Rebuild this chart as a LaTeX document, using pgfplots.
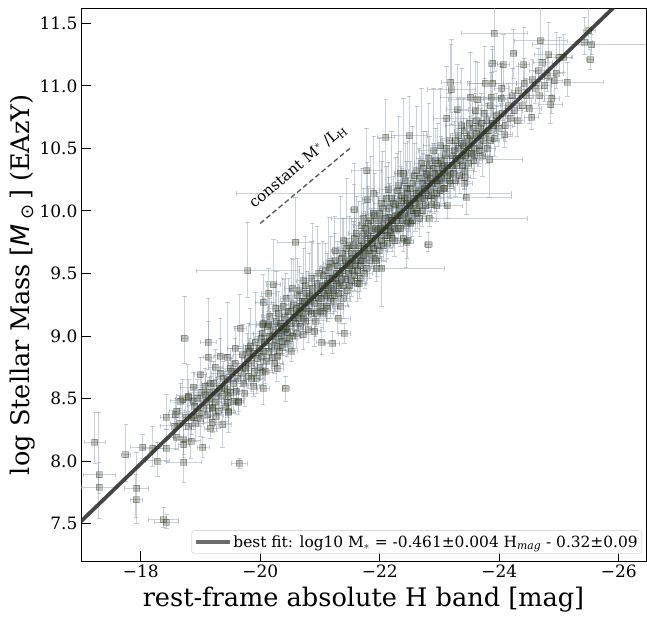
\documentclass[border=0pt]{standalone}
\usepackage{pgfplots}
\usepackage{pgfplotstable}
\usepackage{fontspec}
\setmainfont{DejaVu Serif}
\newfontfamily\dvs{DejaVu Sans}
\pgfplotsset{compat=1.18}
\definecolor{ebar}{RGB}{135,152,172}
\definecolor{mfill}{RGB}{60,70,25}
\pgfplotstableread{
x y ex eu ed
-17.23 8.15 .17 .24 .17
-17.30 7.89 .27 .50 .15
-17.30 7.79 .30 .20 .25
-17.75 8.05 .08 .24 .21
-18.03 8.11 .20 .10 .09
-17.93 7.78 .20 .29 .28
-17.92 7.69 .10 .20 .14
-18.38 7.53 .25 .10 .06
-18.43 7.51 .20 .06 .05
-19.65 7.98 .13 .04 .04
-19.04 8.11 .10 .08 .08
-18.72 7.99 .30 .17 .16
-18.28 8.00 .20 .15 .12
-18.43 8.10 .20 .15 .10
-18.20 8.10 .18 .18 .14
-18.43 8.35 .10 .18 .10
-18.57 8.28 .25 .12 .10
-18.59 8.19 .12 .10 .10
-18.72 8.17 .12 .15 .12
-18.84 8.16 .15 .12 .14
-18.72 8.13 .10 .16 .10
-18.85 8.35 .14 .12 .14
-18.79 8.52 .20 .25 .12
-18.67 8.48 .18 .14 .10
-19.20 8.43 .16 .15 .10
-19.17 8.26 .10 .10 .08
-19.20 8.31 .15 .12 .08
-19.37 8.29 .14 .14 .18
-19.64 8.48 .08 .08 .08
-19.89 8.60 .10 .08 .08
-19.47 8.40 .10 .12 .10
-18.90 8.44 .12 .14 .10
-18.95 8.50 .15 .15 .10
-18.98 8.38 .10 .12 .10
-19.02 8.55 .22 .16 .10
-19.05 8.42 .12 .10 .12
-19.08 8.60 .15 .14 .10
-19.10 8.47 .10 .16 .10
-19.12 8.37 .15 .10 .12
-19.15 8.55 .12 .12 .10
-19.18 8.50 .20 .18 .10
-19.22 8.62 .14 .18 .12
-19.25 8.47 .10 .10 .08
-19.28 8.55 .12 .12 .10
-19.30 8.40 .15 .12 .14
-19.33 8.70 .15 .28 .12
-19.35 8.52 .10 .10 .10
-19.40 8.58 .14 .14 .10
-19.42 8.44 .10 .12 .12
-19.45 8.65 .18 .20 .12
-19.50 8.55 .12 .16 .10
-19.52 8.72 .10 .10 .08
-19.55 8.62 .15 .18 .12
-19.58 8.78 .12 .20 .14
-19.60 8.56 .10 .10 .10
-19.66 9.06 .10 .27 .14
-19.68 8.70 .12 .15 .10
-19.70 8.85 .15 .24 .12
-19.72 8.62 .12 .10 .12
-19.75 8.75 .10 .12 .10
-19.78 8.82 .10 .20 .12
-19.80 8.68 .14 .12 .10
-19.79 9.52 .86 .39 .21
-19.83 8.92 .12 .30 .14
-19.85 8.78 .10 .12 .10
-19.88 8.86 .16 .16 .12
-19.90 8.72 .10 .10 .08
-19.92 8.95 .12 .40 .12
-19.95 8.82 .12 .18 .12
-19.98 8.90 .15 .14 .10
-20.00 8.75 .10 .10 .10
-20.03 9.02 .14 .30 .12
-20.05 8.88 .12 .14 .10
-20.07 8.95 .20 .20 .10
-20.10 8.80 .10 .10 .08
-20.12 9.08 .18 .36 .14
-20.15 9.00 .12 .16 .12
-20.18 8.92 .10 .12 .10
-20.20 8.83 .12 .10 .12
-20.22 9.05 .15 .22 .10
-20.25 8.97 .10 .12 .12
-20.27 9.12 .16 .40 .16
-20.30 9.02 .14 .14 .10
-20.32 8.88 .12 .10 .10
-20.35 9.08 .10 .20 .12
-20.37 8.96 .12 .12 .10
-20.40 9.15 .14 .30 .14
-20.42 9.05 .22 .14 .10
-20.45 8.94 .10 .10 .10
-20.47 9.20 .12 .26 .16
-20.50 9.10 .16 .16 .12
-20.52 8.88 .10 .08 .08
-20.55 9.25 .14 .36 .12
-20.57 9.15 .10 .12 .10
-20.59 9.75 .30 .36 .36
-20.60 9.02 .12 .12 .12
-20.62 9.32 .16 .30 .18
-20.65 9.20 .10 .16 .12
-20.67 9.08 .12 .12 .10
-20.70 9.28 .18 .22 .12
-20.72 9.14 .12 .14 .10
-20.75 9.40 .12 .40 .20
-20.77 9.22 .14 .18 .12
-20.80 9.05 .10 .10 .10
-20.82 9.32 .12 .34 .14
-20.85 9.18 .15 .14 .12
-20.87 9.38 .10 .52 .20
-20.90 9.26 .12 .16 .10
-20.92 9.12 .18 .10 .12
-20.95 9.42 .14 .46 .18
-20.97 9.30 .10 .14 .12
-21.00 9.20 .12 .12 .10
-21.03 8.95 .10 .12 .10
-21.05 9.48 .16 .28 .14
-21.07 9.34 .12 .14 .12
-21.10 9.24 .10 .12 .10
-21.12 9.42 .22 .24 .12
-21.15 9.55 .14 .40 .14
-21.17 9.30 .12 .18 .16
-21.20 9.46 .10 .16 .10
-21.21 8.94 .12 .10 .08
-21.23 9.36 .16 .14 .12
-21.25 9.60 .14 .36 .16
-21.27 9.50 .10 .20 .12
-21.30 9.14 .20 .10 .12
-21.32 9.40 .12 .14 .12
-21.35 9.62 .16 .50 .20
-21.37 9.52 .14 .18 .10
-21.40 9.30 .10 .14 .16
-21.41 9.02 .10 .08 .08
-21.43 9.45 .12 .16 .12
-21.45 9.70 .12 .56 .22
-21.47 9.58 .16 .20 .12
-21.50 9.40 .14 .12 .12
-21.52 9.66 .12 .28 .14
-21.55 9.52 .12 .16 .10
-21.57 9.78 .16 .60 .24
-21.60 9.60 .10 .20 .14
-21.62 9.42 .14 .14 .14
-21.65 9.72 .12 .36 .14
-21.67 9.56 .18 .18 .10
-21.70 9.88 .14 .46 .22
-21.72 9.64 .12 .14 .14
-21.75 9.50 .12 .12 .12
-21.78 10.32 .25 .34 .38
-21.80 9.80 .14 .40 .16
-21.82 9.68 .12 .20 .12
-21.85 9.92 .12 .52 .20
-21.87 9.74 .16 .20 .12
-21.90 10.14 2.30 .46 .26
-21.92 9.62 .10 .12 .10
-21.97 9.85 .14 .30 .14
-22.00 9.98 .12 .60 .20
-22.02 9.76 .14 .16 .14
-22.03 9.54 1.05 .10 .30
-22.05 10.02 .16 .46 .18
-22.07 9.88 .10 .20 .12
-22.10 10.59 .14 .30 .40
-22.12 9.74 .12 .14 .12
-22.15 9.95 .16 .32 .16
-22.17 9.84 .14 .18 .14
-22.20 10.10 .12 .54 .22
-22.22 9.92 .12 .20 .12
-22.25 9.76 .18 .12 .12
-22.27 10.05 .14 .38 .16
-22.30 9.96 .12 .16 .12
-22.32 10.20 .16 .56 .24
-22.35 9.86 .14 .16 .14
-22.37 10.08 .10 .26 .14
-22.40 10.30 .14 .60 .28
-22.42 9.98 .16 .20 .12
-22.44 9.75 .12 .20 .20
-22.47 10.14 .12 .42 .18
-22.49 10.60 .30 .32 .34
-22.50 10.04 .12 .16 .14
-22.52 9.90 .14 .14 .16
-22.55 10.22 .18 .46 .20
-22.57 10.10 .10 .20 .12
-22.60 9.98 .12 .12 .14
-22.62 10.32 .14 .52 .24
-22.65 10.16 .16 .26 .14
-22.67 10.04 .12 .14 .12
-22.70 10.38 .12 .60 .26
-22.72 10.22 .14 .24 .16
-22.75 10.10 .18 .14 .14
-22.81 9.73 .07 .10 .05
-22.78 10.30 .12 .34 .14
-22.82 10.42 .14 .44 .22
-22.83 9.94 1.64 .06 .06
-22.85 10.18 .12 .18 .12
-22.87 10.05 .10 .12 .10
-22.90 10.48 .26 .50 .24
-22.92 10.30 .14 .24 .14
-22.95 10.14 .12 .12 .14
-22.97 10.38 .16 .32 .16
-23.00 10.24 .12 .18 .12
-23.02 10.52 .30 .46 .22
-23.05 10.34 .14 .24 .14
-23.07 10.18 .16 .14 .12
-23.10 10.44 .12 .30 .14
-23.12 10.74 .22 .42 .30
-23.14 10.28 .12 .16 .12
-23.17 10.56 .16 .38 .20
-23.19 11.03 .16 .30 .24
-23.20 10.97 .40 .40 .28
-23.22 10.36 .12 .18 .14
-23.25 10.48 .14 .24 .16
-23.27 10.24 .18 .12 .12
-23.30 10.81 .18 .36 .26
-23.32 10.60 .14 .30 .16
-23.35 10.40 .12 .14 .12
-23.37 10.68 .28 .46 .24
-23.40 10.52 .12 .22 .14
-23.42 10.32 .14 .14 .14
-23.45 10.11 .75 .10 .14
-23.47 10.46 .10 .16 .12
-23.52 10.91 .50 .36 .24
-23.50 10.70 .14 .34 .18
-23.55 10.56 .12 .18 .12
-23.57 10.40 .14 .12 .14
-23.60 10.80 .30 .40 .24
-23.62 10.62 .14 .20 .14
-23.64 10.89 .50 .30 .20
-23.67 10.52 .12 .14 .14
-23.70 10.70 .16 .24 .14
-23.72 10.44 .12 .14 .16
-23.76 11.02 .30 .30 .24
-23.75 10.78 .18 .28 .16
-23.78 10.62 .12 .16 .14
-23.80 10.50 .14 .12 .12
-23.84 10.41 .55 .10 .30
-23.85 10.84 .20 .32 .18
-23.87 10.91 .40 .20 .16
-23.88 10.70 .12 .18 .14
-23.89 11.02 .40 .30 .20
-23.89 11.18 .08 .11 .14
-23.92 11.42 .55 .30 .30
-23.92 10.58 .14 .14 .14
-23.95 10.76 .16 .18 .14
-23.98 10.66 .12 .14 .14
-24.03 10.90 .30 .26 .14
-24.04 10.98 .12 .20 .12
-24.07 11.17 .10 .24 .17
-24.09 10.61 .12 .10 .10
-24.05 10.78 .16 .18 .14
-24.10 10.68 .12 .14 .12
-24.15 10.84 .14 .18 .12
-24.18 10.74 .12 .16 .14
-24.24 11.26 .05 .19 .20
-24.22 10.92 .16 .22 .14
-24.25 10.80 .14 .14 .12
-24.30 10.72 .12 .14 .12
-24.32 10.96 .12 .20 .14
-24.38 10.84 .14 .16 .14
-24.41 11.17 .10 .30 .20
-24.42 11.02 .14 .20 .14
-24.45 10.92 .12 .14 .12
-24.50 10.82 .20 .14 .12
-24.54 10.75 .12 .15 .10
-24.55 11.05 .14 .16 .14
-24.60 10.98 .10 .14 .12
-24.65 11.12 .14 .18 .14
-24.69 11.36 .44 .30 .15
-24.68 10.92 .20 .12 .14
-24.73 11.19 .16 .18 .14
-24.75 11.00 .12 .16 .12
-24.80 11.08 .14 .14 .12
-24.83 11.25 .25 .26 .20
-24.86 10.85 .20 .20 .15
-24.88 10.90 .12 .16 .12
-24.92 11.04 .14 .14 .14
-24.95 11.10 .12 .33 .12
-25.01 11.23 .20 .16 .12
-25.08 11.23 .15 .18 .12
-25.14 11.03 .60 .16 .11
-25.43 11.35 .12 .20 .10
-25.50 11.44 .10 .30 .10
-25.55 11.33 1.00 .08 .08
-25.52 11.21 .06 .08 .08
-18.73 8.98 .06 .34 .20
-19.13 8.95 .13 .35 .14
-19.13 8.83 .08 .29 .10
-19.33 8.84 .10 .30 .12
-19.45 8.83 .08 .44 .14
-19.58 8.90 .14 .18 .12
-19.80 8.90 .18 .20 .14
-20.05 9.27 .14 .22 .14
-20.22 9.41 .12 .36 .16
-20.14 9.34 .12 .20 .14
-20.04 9.09 .22 .18 .12
-20.14 9.09 .14 .16 .12
-20.30 9.18 .14 .18 .14
-20.37 8.91 .18 .12 .14
-20.45 9.03 .12 .14 .10
-20.72 9.01 .20 .14 .12
-20.42 8.58 .06 .10 .10
-20.28 8.74 .10 .08 .10
-20.05 8.58 .10 .15 .13
-19.86 8.66 .14 .12 .10
-20.03 8.71 .12 .10 .10
-19.75 8.74 .16 .14 .12
-19.50 8.74 .18 .16 .10
-19.25 8.75 .12 .14 .10
-19.00 8.69 .10 .14 .12
-18.88 8.59 .22 .12 .12
-19.16 8.62 .14 .18 .14
-19.08 8.53 .20 .16 .14
-18.80 8.51 .16 .14 .12
-18.70 8.49 .12 .16 .10
-19.45 8.57 .16 .12 .14
-19.63 8.47 .08 .10 .10
-19.45 8.47 .14 .14 .12
-19.20 8.42 .10 .12 .10
-19.47 8.39 .12 .10 .16
-18.58 8.37 .12 .10 .12
-18.88 8.35 .14 .10 .10
-22.81 10.12 .10 .10 .10
-23.42 10.22 .12 .12 .12
-23.42 10.27 .10 .14 .10
-23.13 10.04 .25 .10 .10
-22.95 10.04 .18 .14 .12
-22.67 9.94 .10 .12 .14
-22.48 9.91 .12 .12 .12
-22.46 9.76 .10 .10 .14
-22.39 9.78 .14 .10 .10
-21.94 9.54 .10 .10 .10
-21.67 9.46 .12 .10 .10
-21.57 10.01 .06 .20 .12
-21.79 10.09 .08 .30 .12
-21.40 9.76 .06 .18 .12
-21.25 9.68 .06 .14 .12
-22.14 10.17 .14 .22 .12
-22.45 10.18 .12 .22 .14
-22.80 10.29 .12 .16 .12
-23.18 10.22 .12 .10 .12
-22.34 10.30 .10 .18 .12
-21.89 9.98 .20 .20 .14
-21.73 9.94 .16 .24 .14
-21.76 9.86 .18 .14 .14
-21.92 9.86 .14 .14 .12
-22.18 9.83 .14 .12 .12
-18.60 8.40 .12 .10 .10
-18.65 8.30 .15 .12 .10
-18.75 8.35 .18 .14 .10
-18.80 8.28 .12 .10 .12
-18.88 8.48 .15 .12 .10
-18.92 8.30 .12 .12 .14
-19.00 8.34 .15 .10 .14
-19.26 8.36 .12 .16 .12
-19.32 8.58 .12 .10 .10
-19.38 8.66 .12 .14 .10
-19.46 8.52 .14 .12 .08
-19.56 8.48 .12 .12 .10
-19.62 8.66 .12 .12 .10
-19.74 8.54 .14 .10 .10
-19.82 8.88 .10 .10 .10
-19.94 8.66 .12 .14 .12
-20.02 8.98 .12 .12 .10
-20.08 8.72 .12 .12 .10
-20.14 8.88 .10 .10 .08
-20.24 8.78 .14 .10 .08
-20.28 8.92 .10 .12 .10
-20.36 9.00 .12 .10 .10
-20.44 9.06 .12 .12 .10
-20.54 9.00 .12 .14 .12
-20.64 9.14 .10 .12 .10
-20.68 9.24 .12 .12 .10
-20.74 9.28 .12 .10 .12
-20.84 9.28 .12 .12 .10
-20.94 9.18 .14 .12 .10
-21.02 9.30 .10 .12 .10
-21.08 9.40 .10 .12 .10
-21.14 9.36 .12 .14 .10
-21.24 9.32 .12 .12 .12
-21.28 9.42 .10 .10 .10
-21.36 9.46 .12 .12 .10
-21.44 9.56 .10 .12 .10
-21.54 9.62 .12 .14 .10
-21.58 9.48 .12 .12 .12
-21.68 9.60 .10 .12 .10
-21.74 9.70 .12 .12 .10
-21.84 9.78 .10 .14 .12
-21.88 9.66 .12 .10 .10
-21.96 9.72 .12 .12 .10
-22.04 9.84 .10 .12 .12
-22.08 9.80 .12 .12 .10
-22.14 9.88 .12 .14 .10
-22.24 9.86 .10 .12 .12
-22.28 9.92 .12 .14 .10
-22.34 9.96 .12 .12 .12
-22.44 10.06 .10 .14 .10
-22.48 9.96 .12 .12 .12
-22.56 10.00 .12 .12 .10
-22.64 10.10 .12 .14 .12
-22.74 10.18 .10 .12 .10
-22.84 10.26 .12 .14 .12
-22.94 10.24 .12 .12 .10
-23.04 10.26 .12 .14 .12
-23.08 10.36 .10 .12 .10
-23.18 10.30 .12 .14 .12
-23.28 10.42 .12 .12 .10
-23.38 10.44 .12 .14 .12
-23.48 10.52 .10 .12 .10
-23.58 10.50 .12 .12 .12
-23.68 10.60 .12 .14 .10
-23.82 10.64 .10 .12 .12
-23.96 10.72 .12 .12 .10
-20.02 8.84 .16 .10 .10
-20.06 9.10 .12 .20 .12
-20.16 9.16 .14 .14 .10
-20.20 9.00 .18 .12 .10
-20.26 9.22 .12 .20 .14
-20.29 8.84 .14 .10 .12
-20.33 9.10 .16 .14 .10
-20.38 9.24 .12 .22 .14
-20.39 9.06 .14 .10 .10
-20.43 9.30 .10 .20 .14
-20.48 8.98 .14 .12 .10
-20.51 9.20 .16 .18 .12
-20.53 9.38 .12 .24 .14
-20.58 9.10 .14 .10 .12
-20.61 9.22 .12 .14 .10
-20.66 9.36 .18 .20 .14
-20.69 9.18 .12 .12 .10
-20.73 9.44 .12 .26 .14
-20.76 9.12 .16 .12 .10
-20.78 9.34 .14 .18 .14
-20.81 9.20 .12 .12 .10
-20.86 9.46 .16 .30 .14
-20.88 9.32 .12 .14 .12
-20.91 9.04 .10 .12 .12
-20.96 9.36 .14 .14 .10
-20.98 9.50 .18 .24 .14
-21.01 9.24 .14 .12 .10
-21.04 9.40 .12 .16 .12
-21.06 9.18 .16 .12 .14
-21.09 9.52 .10 .22 .14
-21.11 9.32 .14 .14 .10
-21.13 9.22 .12 .12 .10
-21.16 9.46 .16 .16 .12
-21.18 9.58 .12 .22 .14
-21.19 9.38 .14 .12 .12
-21.22 9.28 .12 .12 .10
-21.26 9.44 .16 .14 .10
-21.29 9.56 .12 .20 .12
-21.31 9.34 .14 .12 .12
-21.33 9.50 .12 .14 .10
-21.34 9.24 .14 .12 .14
-21.38 9.66 .16 .28 .14
-21.39 9.40 .12 .14 .12
-21.42 9.60 .14 .16 .12
-21.46 9.36 .16 .12 .12
-21.48 9.50 .12 .14 .10
-21.49 9.72 .14 .24 .12
-21.51 9.56 .12 .14 .12
-21.53 9.44 .14 .12 .12
-21.56 9.72 .16 .20 .14
-21.59 9.56 .12 .12 .10
-21.61 9.82 .14 .30 .16
-21.63 9.52 .14 .14 .12
-21.64 9.66 .16 .14 .10
-21.66 9.42 .12 .12 .12
-21.69 9.76 .14 .20 .14
-21.71 9.60 .12 .14 .10
-21.73 9.82 .16 .24 .14
-21.76 9.66 .12 .14 .12
-21.77 9.54 .14 .12 .12
-21.79 9.74 .12 .16 .10
-21.81 9.90 .16 .28 .14
-21.83 9.60 .14 .12 .14
-21.86 9.84 .12 .18 .12
-21.89 9.70 .14 .14 .12
-21.91 9.96 .16 .34 .14
-21.93 9.78 .12 .14 .10
-21.95 9.60 .16 .12 .12
-21.98 9.92 .12 .20 .12
-21.99 9.68 .14 .14 .12
-22.01 9.86 .12 .16 .12
-22.03 10.06 .14 .34 .14
-22.06 9.72 .16 .14 .12
-22.09 9.94 .12 .18 .12
-22.11 10.10 .14 .26 .16
-22.13 9.80 .12 .14 .12
-22.16 10.02 .16 .20 .14
-22.19 9.92 .12 .14 .12
-22.21 9.78 .14 .12 .10
-22.23 10.06 .12 .22 .14
-22.26 9.96 .14 .14 .12
-22.29 10.16 .16 .30 .16
-22.31 9.86 .12 .14 .12
-22.33 10.02 .14 .16 .12
-22.36 10.12 .12 .24 .14
-22.38 9.92 .16 .14 .14
-22.41 10.10 .12 .16 .12
-22.43 10.24 .14 .30 .14
-22.45 9.90 .14 .12 .12
-22.46 10.08 .12 .18 .12
-22.51 10.18 .16 .22 .14
-22.53 10.02 .12 .14 .12
-22.54 9.92 .14 .12 .12
-22.58 10.28 .16 .26 .14
-22.59 10.06 .12 .16 .12
-22.61 10.14 .14 .14 .12
-22.63 9.98 .16 .12 .12
-22.66 10.26 .14 .24 .14
-22.68 10.10 .12 .16 .12
-22.71 10.00 .14 .12 .12
-22.73 10.34 .12 .30 .14
-22.76 10.16 .14 .14 .12
-22.77 10.04 .16 .12 .12
-22.79 10.24 .12 .16 .10
-22.83 10.36 .16 .24 .14
-22.86 10.12 .14 .14 .12
-22.88 10.22 .12 .12 .12
-22.89 10.34 .12 .20 .12
-22.91 10.10 .16 .12 .12
-22.93 10.40 .14 .26 .14
-22.96 10.22 .12 .14 .10
-22.98 10.30 .16 .16 .12
-23.01 10.16 .12 .12 .12
-23.03 10.40 .14 .20 .14
-23.06 10.30 .12 .14 .10
-23.09 10.18 .16 .12 .14
-23.11 10.50 .14 .22 .14
-23.13 10.36 .12 .14 .12
-23.16 10.24 .14 .12 .12
-23.21 10.44 .16 .18 .12
-23.23 10.30 .12 .14 .12
-23.26 10.56 .14 .24 .14
-23.29 10.36 .12 .14 .12
-23.31 10.50 .18 .16 .12
-23.34 10.28 .14 .12 .14
-23.36 10.54 .12 .18 .12
-23.39 10.36 .14 .14 .10
-23.41 10.64 .16 .26 .14
-23.44 10.44 .12 .14 .12
-23.46 10.58 .14 .16 .12
-23.49 10.38 .14 .12 .14
-23.51 10.60 .12 .16 .12
-23.54 10.46 .16 .14 .12
-23.56 10.66 .14 .22 .12
-23.59 10.44 .12 .14 .12
-23.61 10.72 .14 .22 .14
-23.66 10.48 .12 .12 .12
-23.69 10.66 .16 .16 .10
-23.74 10.56 .14 .14 .12
-23.79 10.72 .12 .14 .12
-23.86 10.56 .14 .12 .12
-23.91 10.68 .12 .14 .12
}\datatable
\begin{document}
\begin{tikzpicture}
\begin{axis}[
  width=565pt, height=552.7pt, scale only axis,
  x dir=reverse,
  xmin=-26.456, xmax=-17, ymin=7.2, ymax=11.62,
  xtick={-18,-20,-22,-24,-26},
  xticklabels={−18,−20,−22,−24,−26},
  ytick={7.5,8,8.5,9,9.5,10,10.5,11,11.5},
  yticklabels={7.5,8.0,8.5,9.0,9.5,10.0,10.5,11.0,11.5},
  tick align=inside, tick pos=left, major tick length=10pt,
  tick style={black,line width=.8pt},
  axis line style={line width=.9pt},
  tick label style={font=\fontsize{17}{19}\selectfont},
  xlabel={rest-frame absolute H band [mag]},
  ylabel={log Stellar Mass [{\dvs\itshape M}\,\textsubscript{\dvs ⊙}\,] (EAzY)},
  label style={font=\fontsize{25.6}{27}\selectfont},
  xlabel style={at={(axis description cs:0.5,0)},anchor=north,yshift=-23pt},
  ylabel style={at={(axis description cs:0,0.5)},anchor=south,yshift=42pt},
  legend style={anchor=south east,
    at={(axis cs:-26.39,7.256)},
    draw=black!15, rounded corners=3pt, fill=white, fill opacity=.85, draw opacity=1, text opacity=1,
    line width=.7pt,
    font=\fontsize{15.4}{17}\selectfont, inner xsep=2pt, inner ysep=3pt},
  legend cell align=left,
  clip=true,
]
\addplot[only marks, mark=square*, forget plot,
  mark size=3pt,
  mark options={fill=mfill, fill opacity=.3, draw=black!85, draw opacity=.3, line width=.8pt},
  error bars/.cd, x dir=both, y dir=both, x explicit, y explicit,
  error mark options={rotate=90,mark size=2.2pt,line width=.5pt,ebar,opacity=.5},
  error bar style={color=ebar, opacity=.45, line width=1pt},
] table[x=x,y=y,x error=ex,y error plus=eu,y error minus=ed] {\datatable};
\addplot[line width=3.8pt, color=black!85, opacity=.85,
  legend image code/.code={\draw[line width=3.8pt,black!68] (0,0)--(34pt,0);}]
  coordinates {(-17,7.517) (-26.4,11.85)};
\addlegendentry{best fit: log10 M\textsubscript{$*$} = -0.461±0.004 H\textsubscript{\textit{mag}} - 0.32±0.09\hspace{4pt}}
\addplot[line width=1.3pt, color=black!68, dash pattern=on 5pt off 3pt, forget plot] coordinates {(-20,9.9) (-21.5,10.5)};
\node[rotate=40, anchor=south west, inner sep=0pt, font=\fontsize{15}{17}\selectfont] at (axis cs:-19.93,10.0) {constant M\textsuperscript{$*$} /L\textsubscript{H}};
\end{axis}
\useasboundingbox (-81pt,-51pt) rectangle (566pt,561pt);
\end{tikzpicture}
\end{document}
